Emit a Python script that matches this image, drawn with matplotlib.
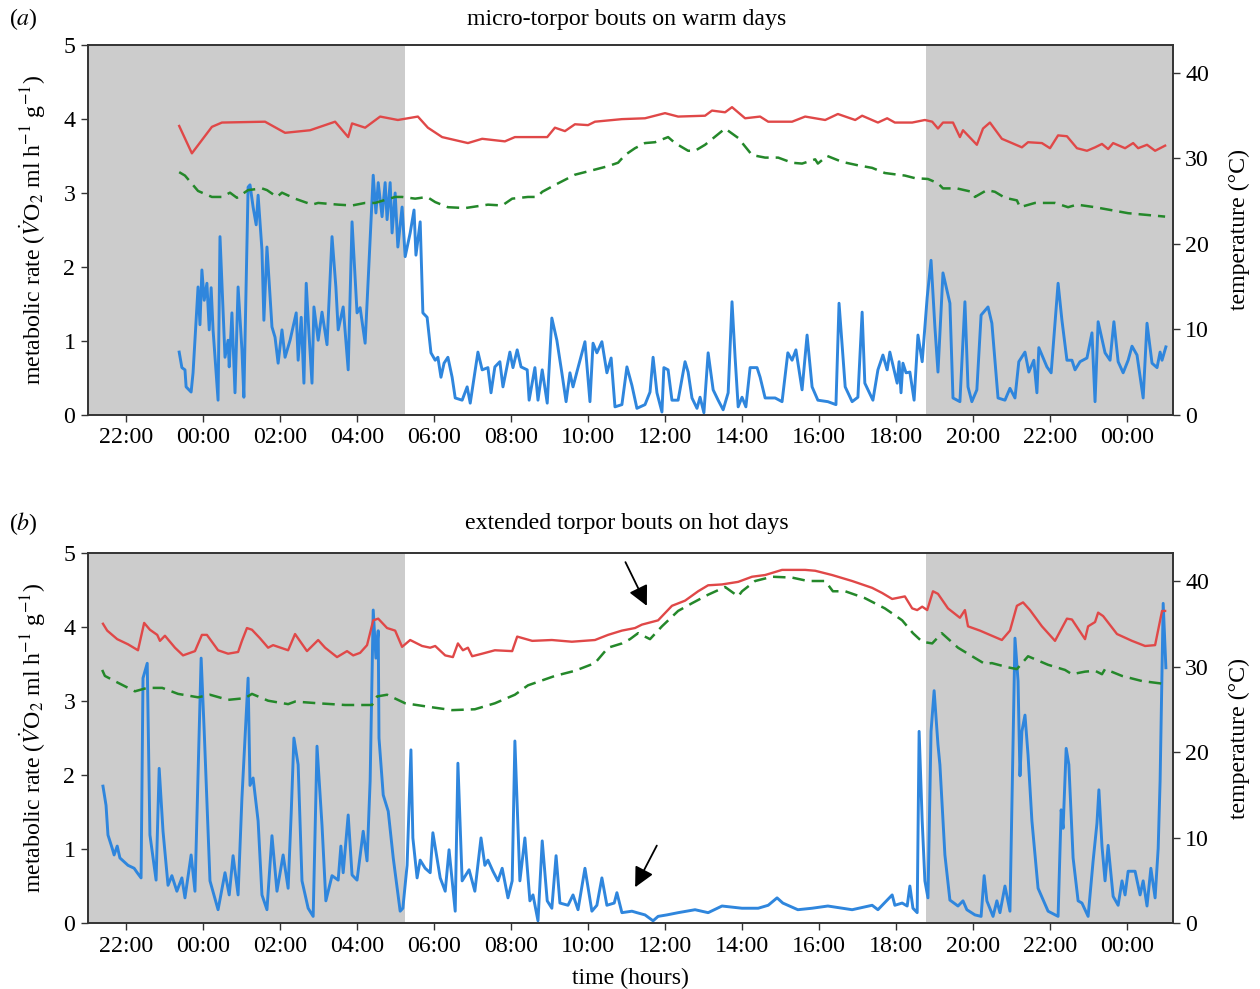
import numpy as np
import matplotlib
matplotlib.use("Agg")
import matplotlib.pyplot as plt

plt.rcParams['font.family'] = ['Liberation Serif', 'DejaVu Serif']
plt.rcParams['mathtext.fontset'] = 'stix'

# time axis in hours from midnight of the first day (24 = 00:00 next day)
night_end = 29.25
night_start = 42.78
xlim = (21.01, 49.19)
tick_hours = list(range(22, 49, 2))
tick_labels = ["%02d:00" % (h % 24) for h in tick_hours]

titles = ["micro-torpor bouts on warm days", "extended torpor bouts on hot days"]
panel_labels = ["($a$)", "($b$)"]

# ---- panel (a): metabolic rate (blue)
a_mr_t = [23.38, 23.45, 23.53, 23.56, 23.69, 23.74, 23.87, 23.92, 23.97, 24.03, 24.10, 24.16, 24.21, 24.26,
          24.39, 24.44, 24.57, 24.65, 24.68, 24.75, 24.83, 24.91, 25.01, 25.06, 25.17, 25.22, 25.30, 25.38,
          25.43, 25.53, 25.58, 25.66, 25.79, 25.87, 25.95, 26.05, 26.13, 26.26, 26.42, 26.47, 26.55, 26.62,
          26.68, 26.75, 26.83, 26.88, 26.99, 27.09, 27.22, 27.35, 27.45, 27.51, 27.64, 27.77, 27.87, 28.00,
          28.08, 28.21, 28.42, 28.49, 28.55, 28.65, 28.73, 28.78, 28.86, 28.91, 28.99, 29.06, 29.17, 29.25,
          29.38, 29.48, 29.53, 29.64, 29.71, 29.82, 29.92, 30.03, 30.10, 30.18, 30.26, 30.36, 30.47, 30.55,
          30.73, 30.86, 30.94, 31.06, 31.14, 31.25, 31.40, 31.48, 31.58, 31.71, 31.79, 31.97, 32.05, 32.16,
          32.26, 32.42, 32.47, 32.62, 32.70, 32.81, 32.94, 33.06, 33.19, 33.32, 33.43, 33.53, 33.61, 33.71,
          33.92, 34.05, 34.13, 34.23, 34.36, 34.49, 34.60, 34.70, 34.88, 35.01, 35.14, 35.27, 35.48, 35.61,
          35.69, 35.79, 35.92, 35.97, 36.08, 36.18, 36.34, 36.52, 36.60, 36.70, 36.83, 36.91, 37.01, 37.12,
          37.25, 37.38, 37.51, 37.64, 37.74, 37.82, 37.90, 38.00, 38.10, 38.21, 38.39, 38.47, 38.60, 38.86,
          39.04, 39.19, 39.30, 39.40, 39.56, 39.69, 39.82, 39.97, 40.23, 40.44, 40.52, 40.68, 40.86, 41.01,
          41.12, 41.19, 41.40, 41.53, 41.66, 41.77, 41.84, 42.03, 42.08, 42.13, 42.18, 42.26, 42.36, 42.47,
          42.57, 42.68, 42.81, 42.91, 43.01, 43.09, 43.22, 43.40, 43.48, 43.66, 43.79, 43.87, 43.97, 44.10,
          44.21, 44.39, 44.49, 44.65, 44.83, 44.96, 45.09, 45.19, 45.35, 45.45, 45.58, 45.66, 45.71, 45.92,
          46.03, 46.21, 46.31, 46.44, 46.57, 46.65, 46.78, 46.96, 47.09, 47.17, 47.25, 47.43, 47.56, 47.66,
          47.77, 47.90, 48.03, 48.13, 48.26, 48.42, 48.52, 48.65, 48.78, 48.86, 48.91, 49.01]
a_mr = [0.85, 0.64, 0.61, 0.38, 0.31, 0.57, 1.73, 1.22, 1.96, 1.55, 1.78, 1.15, 1.72, 1.15,
        0.20, 2.41, 0.78, 1.01, 0.65, 1.38, 0.30, 1.73, 0.88, 0.24, 3.08, 3.11, 2.81, 2.57,
        2.97, 2.23, 1.28, 2.27, 1.19, 1.05, 0.70, 1.15, 0.78, 1.01, 1.38, 0.74, 1.32, 0.43,
        1.78, 1.11, 0.43, 1.46, 1.01, 1.39, 0.95, 2.41, 1.73, 1.15, 1.46, 0.61, 2.61, 1.38,
        1.45, 0.97, 3.24, 2.73, 3.14, 2.68, 3.14, 2.64, 3.14, 2.46, 3.00, 2.27, 2.81, 2.14,
        2.46, 2.77, 2.16, 2.61, 1.38, 1.32, 0.84, 0.74, 0.78, 0.51, 0.70, 0.78, 0.51, 0.23,
        0.20, 0.38, 0.16, 0.57, 0.85, 0.61, 0.64, 0.30, 0.65, 0.72, 0.38, 0.85, 0.64, 0.88,
        0.65, 0.61, 0.20, 0.64, 0.20, 0.61, 0.16, 1.31, 1.01, 0.57, 0.18, 0.57, 0.38, 0.58,
        0.99, 0.18, 0.97, 0.84, 0.99, 0.57, 0.77, 0.11, 0.14, 0.65, 0.40, 0.09, 0.14, 0.31,
        0.78, 0.30, 0.04, 0.64, 0.61, 0.20, 0.20, 0.72, 0.58, 0.23, 0.09, 0.24, 0.03, 0.84,
        0.34, 0.20, 0.07, 0.30, 1.53, 0.78, 0.11, 0.24, 0.11, 0.64, 0.64, 0.51, 0.23, 0.23,
        0.18, 0.84, 0.74, 0.88, 0.34, 1.08, 0.38, 0.20, 0.18, 0.14, 1.51, 0.38, 0.18, 0.24,
        1.39, 0.43, 0.20, 0.61, 0.81, 0.61, 0.85, 0.43, 0.72, 0.30, 0.70, 0.57, 0.58, 0.20,
        1.08, 0.72, 1.59, 2.09, 1.19, 0.58, 1.92, 1.51, 0.23, 0.18, 1.53, 0.38, 0.18, 0.34,
        1.35, 1.46, 1.24, 0.23, 0.20, 0.36, 0.23, 0.72, 0.85, 0.58, 0.74, 0.30, 0.91, 0.65,
        0.57, 1.78, 1.28, 0.74, 0.74, 0.61, 0.72, 0.77, 1.11, 0.18, 1.26, 0.84, 0.74, 1.26,
        0.72, 0.57, 0.74, 0.93, 0.81, 0.23, 1.24, 0.70, 0.64, 0.85, 0.74, 0.92]

# ---- panel (a): body temperature (red) and ambient temperature (green), degC
a_tb_t = [23.38, 23.71, 24.23, 24.49, 25.61, 26.13, 26.78, 27.43, 27.77, 27.87, 28.21, 28.60, 29.06, 29.58,
          29.84, 30.21, 30.88, 31.25, 31.84, 32.10, 32.94, 33.14, 33.40, 33.66, 34.00, 34.18, 34.88, 35.48,
          36.00, 36.34, 37.04, 37.22, 37.56, 37.74, 38.08, 38.47, 38.68, 39.30, 39.64, 40.16, 40.49, 40.94,
          41.12, 41.53, 41.77, 41.97, 42.42, 42.75, 42.94, 43.09, 43.22, 43.48, 43.66, 43.74, 44.10, 44.26,
          44.44, 44.75, 44.96, 45.27, 45.43, 45.79, 46.00, 46.21, 46.44, 46.70, 46.96, 47.17, 47.35, 47.51,
          47.64, 47.95, 48.16, 48.29, 48.52, 48.73, 48.99]
a_tb = [33.8, 30.6, 33.7, 34.2, 34.3, 33.0, 33.3, 34.3, 32.5, 34.1, 33.6, 34.9, 34.5, 34.9,
        33.6, 32.5, 31.8, 32.3, 32.0, 32.5, 32.5, 33.6, 33.2, 34.0, 33.9, 34.3, 34.6, 34.7,
        35.3, 34.9, 35.0, 35.6, 35.4, 36.0, 34.7, 34.9, 34.3, 34.3, 34.9, 34.5, 35.2, 34.5,
        35.0, 34.2, 34.7, 34.2, 34.2, 34.5, 34.3, 33.5, 34.2, 34.2, 32.5, 33.3, 31.6, 33.5,
        34.2, 32.3, 31.9, 31.3, 31.9, 31.8, 31.2, 32.7, 32.6, 31.2, 30.9, 31.3, 31.7, 31.1,
        31.8, 31.2, 31.8, 31.2, 31.6, 30.9, 31.5]
a_ta_t = [23.38, 23.53, 23.87, 24.23, 24.49, 24.70, 24.88, 25.17, 25.53, 25.66, 25.92, 26.05, 26.39, 26.83,
          26.99, 27.51, 27.87, 28.21, 28.47, 28.99, 29.17, 29.51, 29.82, 30.03, 30.36, 30.81, 31.40, 31.77,
          32.03, 32.44, 32.68, 32.81, 33.14, 33.66, 34.18, 34.52, 34.78, 34.96, 35.22, 35.48, 35.74, 36.08,
          36.26, 36.60, 36.78, 37.04, 37.56, 37.90, 38.26, 38.60, 38.94, 39.30, 39.56, 39.90, 39.97, 40.21,
          40.60, 41.01, 41.38, 41.71, 42.05, 42.23, 42.49, 42.83, 43.09, 43.22, 43.58, 43.97, 44.05, 44.36,
          44.57, 44.83, 45.14, 45.22, 45.61, 45.82, 46.13, 46.47, 46.70, 47.17, 48.03, 48.99]
a_ta = [28.4, 28.0, 26.2, 25.5, 25.5, 26.0, 25.4, 26.3, 26.5, 26.3, 25.5, 26.0, 25.3, 24.6,
        24.8, 24.6, 24.5, 24.8, 24.8, 25.5, 25.5, 25.3, 25.5, 24.9, 24.3, 24.2, 24.6, 24.5,
        25.3, 25.5, 25.5, 26.1, 26.9, 28.1, 28.7, 29.1, 29.5, 30.4, 31.2, 31.8, 31.9, 32.5,
        31.8, 30.9, 30.9, 31.6, 33.5, 32.4, 30.4, 30.1, 30.1, 29.5, 29.4, 29.9, 29.4, 30.3,
        29.6, 29.2, 28.9, 28.3, 28.1, 28.0, 27.7, 27.6, 27.1, 26.5, 26.5, 26.1, 25.5, 26.3,
        26.1, 25.4, 25.1, 24.3, 24.8, 24.8, 24.8, 24.3, 24.6, 24.3, 23.6, 23.2]

# ---- panel (b): metabolic rate (blue)
b_mr_t = [21.40, 21.48, 21.53, 21.64, 21.69, 21.77, 21.84, 22.05, 22.21, 22.29, 22.39, 22.44, 22.55, 22.62,
          22.78, 22.86, 22.96, 23.09, 23.19, 23.32, 23.45, 23.53, 23.69, 23.79, 23.95, 24.03, 24.18, 24.39,
          24.57, 24.68, 24.78, 24.91, 25.01, 25.17, 25.22, 25.30, 25.43, 25.53, 25.66, 25.79, 25.92, 26.08,
          26.21, 26.29, 26.36, 26.47, 26.57, 26.73, 26.86, 26.96, 27.09, 27.19, 27.35, 27.51, 27.58, 27.64,
          27.77, 27.87, 28.00, 28.16, 28.26, 28.34, 28.42, 28.49, 28.55, 28.57, 28.68, 28.81, 28.94, 29.12,
          29.19, 29.30, 29.40, 29.45, 29.56, 29.64, 29.77, 29.90, 29.97, 30.16, 30.29, 30.39, 30.55, 30.62,
          30.73, 30.91, 31.06, 31.22, 31.32, 31.40, 31.53, 31.66, 31.77, 31.92, 32.03, 32.10, 32.23, 32.36,
          32.49, 32.57, 32.70, 32.81, 32.94, 33.06, 33.17, 33.27, 33.48, 33.61, 33.74, 33.92, 34.10, 34.23,
          34.36, 34.49, 34.68, 34.75, 34.88, 35.14, 35.27, 35.48, 35.69, 35.82, 36.05, 36.34, 36.78, 37.12,
          37.48, 38.00, 38.42, 38.68, 38.91, 39.06, 39.45, 39.82, 40.23, 40.86, 41.38, 41.53, 41.90, 41.97,
          42.16, 42.29, 42.36, 42.44, 42.55, 42.60, 42.68, 42.75, 42.83, 42.91, 42.94, 42.99, 43.09, 43.14,
          43.27, 43.40, 43.61, 43.74, 43.84, 44.05, 44.21, 44.29, 44.36, 44.52, 44.62, 44.70, 44.83, 44.96,
          45.09, 45.17, 45.22, 45.27, 45.35, 45.43, 45.53, 45.69, 45.95, 46.21, 46.29, 46.34, 46.42, 46.49,
          46.60, 46.73, 46.83, 46.99, 47.12, 47.22, 47.27, 47.35, 47.43, 47.51, 47.64, 47.77, 47.87, 47.95,
          48.03, 48.21, 48.34, 48.42, 48.52, 48.62, 48.73, 48.81, 48.86, 48.94, 49.01]
b_mr = [1.85, 1.59, 1.19, 1.01, 0.92, 1.04, 0.88, 0.78, 0.74, 0.68, 0.61, 3.31, 3.51, 1.19,
        0.58, 2.09, 1.24, 0.51, 0.64, 0.43, 0.61, 0.34, 0.92, 0.43, 3.58, 2.59, 0.57, 0.18,
        0.68, 0.38, 0.91, 0.38, 1.69, 3.31, 1.86, 1.96, 1.38, 0.38, 0.18, 1.18, 0.43, 0.92,
        0.47, 1.49, 2.50, 2.14, 0.57, 0.20, 0.09, 2.39, 1.32, 0.30, 0.64, 0.58, 1.04, 0.68,
        1.46, 0.65, 0.58, 1.24, 0.84, 1.92, 4.23, 3.58, 3.95, 2.50, 1.73, 1.51, 0.88, 0.16,
        0.20, 0.78, 2.34, 1.15, 0.61, 0.85, 0.74, 0.68, 1.22, 0.61, 0.43, 0.99, 0.16, 2.16,
        0.57, 0.72, 0.43, 1.15, 0.78, 0.85, 0.70, 0.57, 0.74, 0.34, 0.57, 2.46, 0.57, 1.15,
        0.30, 0.38, 0.03, 1.11, 0.30, 0.20, 0.91, 0.27, 0.24, 0.38, 0.18, 0.74, 0.16, 0.24,
        0.61, 0.24, 0.27, 0.41, 0.14, 0.16, 0.14, 0.11, 0.03, 0.09, 0.11, 0.14, 0.18, 0.14,
        0.23, 0.20, 0.20, 0.24, 0.34, 0.27, 0.18, 0.20, 0.23, 0.18, 0.24, 0.18, 0.38, 0.24,
        0.27, 0.23, 0.50, 0.20, 0.14, 2.59, 1.38, 0.57, 0.34, 2.59, 2.80, 3.14, 2.41, 2.14,
        0.92, 0.31, 0.23, 0.30, 0.18, 0.11, 0.09, 0.64, 0.30, 0.09, 0.30, 0.14, 0.50, 0.16,
        3.85, 3.27, 1.99, 2.59, 2.81, 2.27, 1.38, 0.47, 0.16, 0.09, 1.53, 1.28, 2.36, 2.14,
        0.88, 0.30, 0.27, 0.09, 0.84, 1.35, 1.80, 1.04, 0.57, 1.05, 0.36, 0.24, 0.57, 0.38,
        0.70, 0.70, 0.38, 0.57, 0.23, 0.74, 0.34, 1.01, 1.92, 4.32, 3.45]

# ---- panel (b): body temperature (red) and ambient temperature (green), degC
b_tb_t = [21.40, 21.51, 21.77, 22.05, 22.31, 22.47, 22.62, 22.81, 22.88, 23.01, 23.27, 23.48, 23.79, 23.97,
          24.10, 24.39, 24.65, 24.91, 25.01, 25.14, 25.27, 25.48, 25.69, 25.82, 26.21, 26.39, 26.70, 26.99,
          27.17, 27.48, 27.74, 27.90, 28.08, 28.26, 28.42, 28.55, 28.78, 28.99, 29.17, 29.38, 29.69, 29.90,
          30.03, 30.29, 30.49, 30.62, 30.75, 30.88, 30.99, 31.25, 31.58, 32.03, 32.16, 32.55, 33.06, 33.58,
          34.18, 34.52, 34.88, 35.22, 35.40, 35.82, 36.18, 36.52, 36.86, 37.12, 37.48, 37.90, 38.26, 38.60,
          39.04, 39.64, 39.90, 40.34, 40.86, 41.38, 41.64, 41.90, 42.23, 42.42, 42.55, 42.68, 42.81, 42.96,
          43.09, 43.35, 43.66, 43.79, 43.87, 44.18, 44.49, 44.75, 44.96, 45.14, 45.30, 45.48, 45.79, 46.13,
          46.44, 46.57, 46.91, 46.99, 47.17, 47.25, 47.38, 47.74, 48.13, 48.47, 48.73, 48.91, 48.99]
b_tb = [35.0, 34.2, 33.2, 32.6, 31.9, 35.1, 34.3, 33.7, 33.0, 33.6, 32.2, 31.3, 31.8, 33.7,
        33.7, 31.9, 31.5, 31.7, 33.0, 34.5, 34.3, 33.3, 32.2, 32.5, 31.9, 33.8, 31.8, 33.1,
        32.2, 31.1, 31.8, 31.3, 31.6, 32.5, 35.4, 35.6, 34.5, 34.2, 32.3, 33.1, 32.4, 32.2,
        32.4, 31.3, 31.1, 32.7, 31.9, 32.2, 31.2, 31.5, 31.9, 31.8, 33.5, 33.0, 33.1, 32.9,
        33.1, 33.7, 34.2, 34.5, 34.9, 35.4, 37.1, 37.7, 38.8, 39.5, 39.6, 39.9, 40.5, 40.7,
        41.3, 41.3, 41.2, 40.7, 40.0, 39.2, 38.6, 37.9, 38.2, 36.8, 36.6, 37.0, 36.6, 38.8,
        38.5, 36.8, 35.7, 36.6, 34.7, 34.2, 33.6, 33.1, 34.2, 37.1, 37.5, 36.6, 34.7, 33.0,
        35.6, 35.5, 33.2, 34.7, 35.2, 36.3, 35.9, 33.8, 33.0, 32.4, 32.5, 36.5, 36.5]
b_ta_t = [21.38, 21.45, 21.79, 22.23, 22.55, 22.94, 23.35, 23.87, 24.18, 24.65, 25.09, 25.27, 25.69, 26.21,
          26.39, 26.99, 27.69, 28.39, 28.52, 28.78, 29.25, 29.84, 30.47, 31.06, 31.58, 32.10, 32.44, 33.14,
          33.66, 34.18, 34.52, 34.88, 35.09, 35.30, 35.61, 35.92, 36.34, 36.70, 37.12, 37.56, 37.90, 38.00,
          38.34, 38.78, 39.30, 39.71, 40.16, 40.36, 40.68, 41.19, 41.71, 41.97, 42.16, 42.44, 42.68, 42.94,
          43.19, 43.61, 44.05, 44.31, 44.49, 44.91, 45.14, 45.43, 45.95, 46.39, 46.57, 46.91, 47.17, 47.35,
          47.43, 47.87, 48.39, 48.91, 48.99]
b_ta = [29.6, 28.9, 28.1, 27.1, 27.5, 27.5, 26.8, 26.4, 26.7, 26.1, 26.3, 26.8, 26.0, 25.6,
        25.9, 25.7, 25.5, 25.5, 26.5, 26.7, 25.7, 25.3, 24.9, 25.0, 25.7, 26.7, 27.8, 28.9,
        29.5, 30.4, 32.2, 32.7, 33.2, 33.9, 33.2, 34.7, 36.5, 37.4, 38.4, 39.3, 38.2, 38.8,
        40.0, 40.5, 40.4, 40.0, 40.0, 38.8, 38.8, 38.0, 36.8, 36.0, 35.4, 33.9, 32.9, 32.7,
        33.9, 32.2, 31.0, 30.3, 30.4, 29.9, 29.7, 31.2, 30.2, 29.6, 29.1, 29.4, 29.5, 29.1,
        29.7, 28.9, 28.3, 28.0, 28.1]

panels = [(a_mr_t, a_mr, a_tb_t, a_tb, a_ta_t, a_ta),
          (b_mr_t, b_mr, b_tb_t, b_tb, b_ta_t, b_ta)]

blue = '#2f86dd'
red = '#e04848'
green = '#24882a'
spine_col = '#333333'
fs = 17.2

fig = plt.figure(figsize=(12.6, 9.89), dpi=100)
boxes = [[0.0698, 0.5804, 0.861, 0.3741], [0.0698, 0.0667, 0.861, 0.3741]]
title_y = [1 - 19 / 989, 1 - 524 / 989]

for i, (mt, mv, tbt, tbv, tat, tav) in enumerate(panels):
    ax = fig.add_axes(boxes[i])
    ax.axvspan(xlim[0], night_end, color='#cccccc', lw=0, zorder=0)
    ax.axvspan(night_start, xlim[1], color='#cccccc', lw=0, zorder=0)
    ax.plot(mt, mv, color=blue, lw=2.1, zorder=3)
    ax.set_xlim(*xlim)
    ax.set_ylim(0, 5)
    ax.set_xticks(tick_hours)
    ax.set_xticklabels(tick_labels)
    ax.set_yticks(range(0, 6))
    ax.set_ylabel('metabolic rate ($\\dot{V}$O$_2$ ml h$^{-1}$ g$^{-1}$)', fontsize=fs, labelpad=11)

    ax2 = ax.twinx()
    ax2.plot(tbt, tbv, color=red, lw=1.7)
    ax2.plot(tat, tav, color=green, lw=1.8, linestyle=(0, (5, 2.8)))
    ax2.set_ylim(0, 43.27)
    ax2.set_yticks([0, 10, 20, 30, 40])
    ax2.set_ylabel('temperature (°C)', fontsize=fs, labelpad=14)

    for a in (ax, ax2):
        a.tick_params(direction='out', length=5, width=1, color=spine_col, labelsize=fs, pad=4)
        for s in a.spines.values():
            s.set_color(spine_col)
            s.set_linewidth(1.2)

    fig.text(627 / 1260, title_y[i], titles[i], ha='center', va='center', fontsize=fs)
    fig.text(9 / 1260, title_y[i], panel_labels[i], ha='left', va='center', fontsize=fs)

    if i == 1:
        ax.set_xlabel('time (hours)', fontsize=fs, labelpad=8)
        ax2.annotate('', xy=(35.56, 36.8), xytext=(34.94, 42.5),
                     arrowprops=dict(arrowstyle='-|>', color='k', lw=1.3, mutation_scale=30))
        ax.annotate('', xy=(35.19, 0.45), xytext=(35.82, 1.08),
                    arrowprops=dict(arrowstyle='-|>', color='k', lw=1.3, mutation_scale=30))

fig.savefig('out.png', dpi=100)
